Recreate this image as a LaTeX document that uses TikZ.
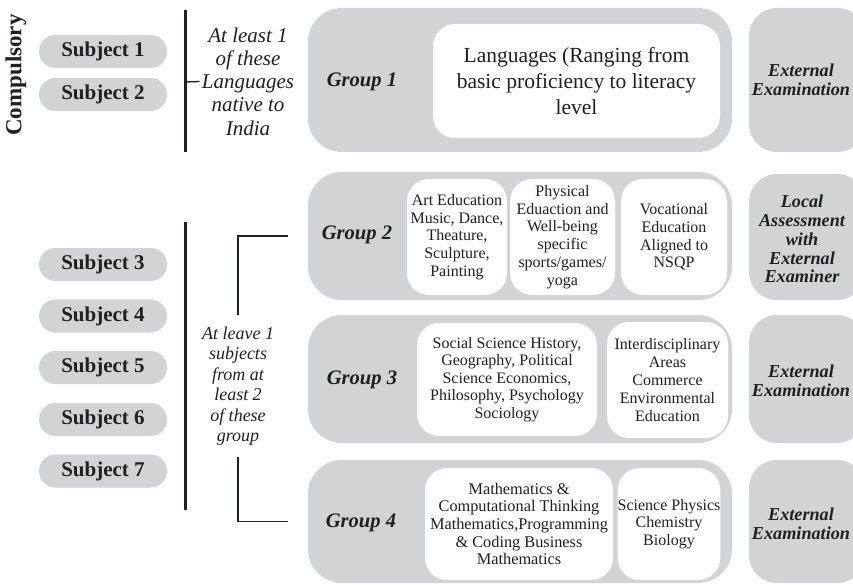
\documentclass[tikz,border=0pt]{standalone}
\usepackage{fontspec}
\setmainfont{Liberation Serif}
\definecolor{boxgray}{RGB}{209,211,212}
\definecolor{ink}{RGB}{35,31,32}
\tikzset{
  subj/.style={fill=boxgray, rounded corners=16.5pt, minimum width=128pt, minimum height=33pt, inner sep=0pt, font=\bfseries\fontsize{21}{24}\selectfont},
  grp/.style={fill=boxgray, rounded corners=34pt, minimum width=424pt, inner sep=0pt},
  grplabel/.style={font=\bfseries\itshape\fontsize{20.6}{24}\selectfont},
  inbox/.style={fill=white, rounded corners=22pt, inner sep=0pt, align=center, font=\fontsize{16}{17.8}\selectfont},
  exam/.style={fill=boxgray, rounded corners=28pt, minimum width=116pt, inner sep=0pt},
  examtext/.style={align=center, font=\bfseries\itshape\fontsize{18.2}{18.8}\selectfont},
  note/.style={align=center, inner sep=0pt},
  rule/.style={draw=ink, line width=3pt},
  tie/.style={draw=ink, line width=1.3pt},
  every node/.append style={text=ink}
}
\begin{document}
\begin{tikzpicture}[x=1pt, y=-1pt]
                \useasboundingbox (0,0) rectangle (853,585);
                \node[rotate=90, font=\bfseries\fontsize{23}{26}\selectfont] (comp) at (16,75) {Compulsory};

                \foreach \n/\y in {1/51.5,2/94.5,3/264.5,4/316,5/367.5,6/419.5,7/471}
                  \node[subj] (s\n) at (103,\y) {Subject \n};

                \node[grp, minimum height=144pt] (g1) at (520,80) {};
                \node[grp, minimum height=128pt] (g2) at (520,236) {};
                \node[grp, minimum height=128pt] (g3) at (520,379) {};
                \node[grp, minimum height=123pt] (g4) at (520,521.5) {};
                \foreach \n/\x/\y in {1/362/82,2/357/235,3/362/380,4/361/523}
                  \node[grplabel] (gl\n) at (\x,\y) {Group \n};

                \node[inbox, minimum width=287pt, minimum height=114pt, font=\fontsize{21.5}{26}\selectfont] (lang) at (576.5,81) {Languages (Ranging from\\basic proficiency to literacy\\level};
                \node[inbox, minimum width=100pt, minimum height=116pt] (art) at (457,237) {Art Education\\Music, Dance,\\Theature,\\Sculpture,\\Painting};
                \node[inbox, minimum width=105pt, minimum height=116pt] (phy) at (562.5,237) {Physical\\Eduaction and\\Well-being\\specific\\sports/games/\\yoga};
                \node[inbox, minimum width=106pt, minimum height=116pt] (voc) at (674,237) {Vocational\\Education\\Aligned to\\NSQP};
                \node[inbox, minimum width=180pt, minimum height=113pt, font=\fontsize{16}{17.5}\selectfont] (soc) at (507,379.5) {Social Science History,\\Geography, Political\\Science Economics,\\Philosophy, Psychology\\Sociology};
                \node[inbox, minimum width=121pt, minimum height=116pt] (inter) at (667.5,380) {Interdisciplinary\\Areas\\Commerce\\Environmental\\Education};
                \node[inbox, minimum width=188pt, minimum height=112pt, font=\fontsize{16.3}{17.6}\selectfont] (math) at (519,524) {Mathematics \&\\Computational Thinking\\Mathematics,Programming\\\& Coding Business\\Mathematics};
                \node[inbox, minimum width=102pt, minimum height=112pt] (sci) at (669,524) {Science Physics\\Chemistry\\Biology};

                \foreach \n/\y/\h in {1/80/144,2/237/126,3/379/128,4/521.5/123}
                  \node[exam, minimum height=\h] (eb\n) at (807,\y) {};
                \node[examtext] (et1) at (801,80) {External\\Examination};
                \node[examtext] (et2) at (802,239) {Local\\Assessment\\with\\External\\Examiner};
                \node[examtext] (et3) at (801,381) {External\\Examination};
                \node[examtext] (et4) at (801,524) {External\\Examination};

                \node[note, inner xsep=2pt, font=\itshape\fontsize{21}{23.3}\selectfont] (n1) at (248,81.5) {At least 1\\of these\\Languages\\native to\\India};
                \node[note, minimum height=142pt, font=\itshape\fontsize{18}{20.5}\selectfont] (n2) at (238,386) {At leave 1\\subjects\\from at\\least 2\\of these\\group};

                \coordinate (r1a) at (185,10);
                \coordinate (r1b) at (185,152);
                \coordinate (r1m) at (185,82);
                \coordinate (r2a) at (185,222);
                \coordinate (r2b) at (185,510);
                \draw[rule] (r1a) -- (r1b);
                \draw[rule] (r2a) -- (r2b);
                \draw[tie] (r1m) -- (n1.west);
                \draw[tie] (n2.north) |- ([xshift=-20pt]g2.west);
                \draw[tie] (n2.south) |- ([xshift=-20pt]g4.west);
\end{tikzpicture}
\end{document}
